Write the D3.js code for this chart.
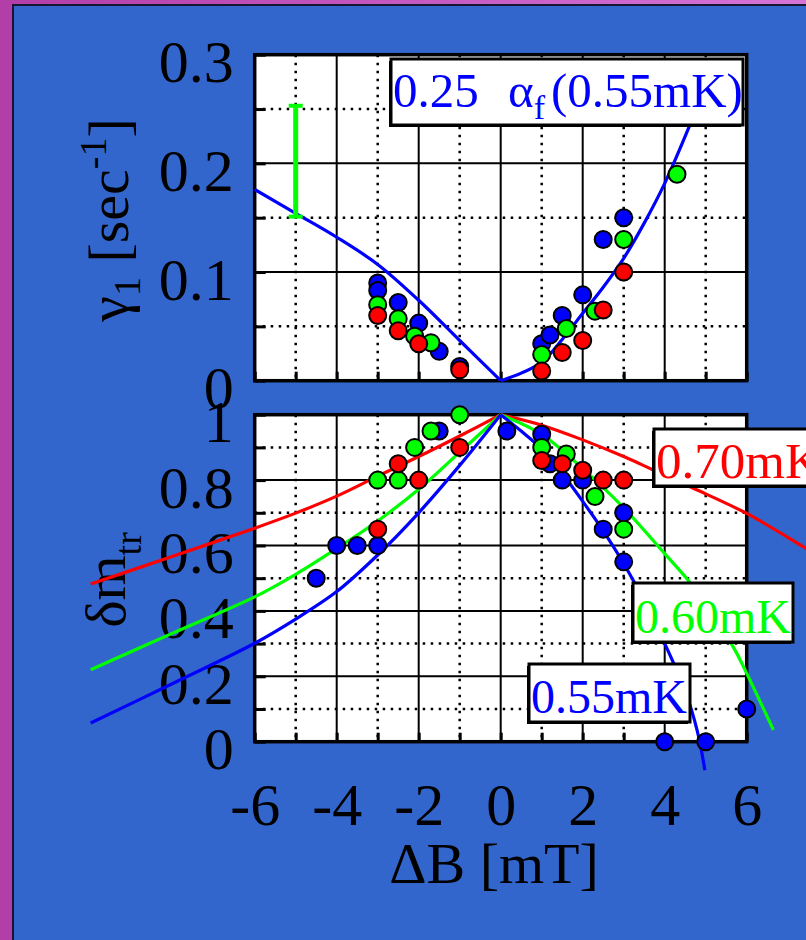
<!DOCTYPE html>
<html>
<head>
<meta charset="utf-8">
<script src="https://cdn.jsdelivr.net/npm/d3@7"></script>
<style>
  html, body { margin: 0; padding: 0; background: #b23ea8; }
  svg { display: block; }
  text { font-family: "Liberation Serif", "Times New Roman", serif; }
</style>
</head>
<body>
<svg id="chart" width="806" height="940"></svg>
<script>
// ---- axis ticks ----
const xTickValues = [-6, -4, -2, 0, 2, 4, 6];
const gammaTickValues = [0, 0.1, 0.2, 0.3];
const dmTickValues = [0, 0.2, 0.4, 0.6, 0.8, 1];

// ---- γ1 relaxation rate vs ΔB, three temperatures ----
const gammaBlue  = [[-3, 0.09], [-3, 0.083], [-2.5, 0.072], [-2, 0.053], [-1.5, 0.027], [-1, 0.013],
                    [1, 0.034], [1.2, 0.042], [1.5, 0.06], [2, 0.079], [2.5, 0.13], [3, 0.15]];
const gammaGreen = [[-3, 0.07], [-2.5, 0.057], [-2.1, 0.041], [-1.7, 0.035],
                    [1, 0.024], [1.6, 0.048], [2.3, 0.064], [3, 0.13], [4.3, 0.19]];
const gammaRed   = [[-3, 0.06], [-2.5, 0.046], [-2, 0.034], [-1, 0.01],
                    [1, 0.009], [1.5, 0.026], [2, 0.037], [2.5, 0.065], [3, 0.10]];
// typical error bar: ΔB, low, high
const gammaErrorBar = [-5, 0.151, 0.253];
// 0.25·α_f(0.55mK) curve, left and right branches
const gammaFitLeft  = [[-6, 0.176], [-5, 0.154], [-4, 0.132], [-3, 0.107], [-2, 0.074], [-1, 0.037], [0, 0]];
const gammaFitRight = [[0, 0], [0.5, 0.007], [1, 0.017], [1.5, 0.038], [2, 0.062], [2.5, 0.086],
                       [3, 0.1126], [3.5, 0.145], [4, 0.1816], [4.6, 0.234], [5, 0.272]];

// ---- δm_tr vs ΔB ----
const dmBlue  = [[-4.5, 0.5], [-4, 0.6], [-3.5, 0.6], [-3, 0.6], [-1.5, 0.95], [0.15, 0.95], [1, 0.94],
                 [1.2, 0.85], [1.5, 0.8], [2, 0.8], [2.5, 0.65], [3, 0.7], [3, 0.55], [4, 0], [5, 0], [6, 0.1]];
const dmGreen = [[-3, 0.8], [-2.5, 0.8], [-2.1, 0.9], [-1.7, 0.95], [-1, 1.0],
                 [1, 0.9], [1.6, 0.88], [2.3, 0.75], [3, 0.65]];
const dmRed   = [[-3, 0.65], [-2.5, 0.85], [-2, 0.8], [-1, 0.9],
                 [1, 0.86], [1.5, 0.85], [2, 0.83], [2.5, 0.8], [3, 0.8]];
// model curves (left / right of ΔB = 0)
const fit070Left  = [[-10, 0.482], [-8, 0.567], [-6, 0.653], [-5, 0.699], [-4, 0.751], [-3, 0.812], [-2, 0.872], [-1, 0.935], [0, 1]];
const fit070Right = [[0, 1], [1, 0.968], [2, 0.923], [3, 0.872], [3.72, 0.831], [4.7, 0.775], [6, 0.698], [7.45, 0.591], [8, 0.55]];
const fit060Left  = [[-10, 0.22], [-8, 0.332], [-6, 0.443], [-5, 0.512], [-4, 0.591], [-3, 0.675], [-2, 0.772], [-1, 0.885], [0, 1]];
const fit060Right = [[0, 1], [1, 0.94], [2, 0.835], [3, 0.715], [4, 0.575], [4.66, 0.48], [5.67, 0.29], [6, 0.209], [6.65, 0.036]];
const fit055Left  = [[-10, 0.057], [-8, 0.178], [-6, 0.301], [-5, 0.375], [-4, 0.459], [-3, 0.571], [-2, 0.70], [-1, 0.845], [0, 1]];
const fit055Right = [[0, 1], [0.5, 0.95], [1, 0.895], [1.5, 0.82], [2, 0.735], [2.5, 0.645], [3, 0.545], [3.5, 0.43],
                     [4, 0.3], [4.5, 0.155], [4.8, 0.03], [4.98, -0.087]];

const BLUE = "#0000ff", GREEN = "#00ff00", RED = "#ff0000";

const svg = d3.select("#chart");

// ---- backdrop ----
const defs = svg.append("defs");
const band = defs.append("linearGradient").attr("id", "band").attr("x1", 0).attr("x2", 1).attr("y1", 0).attr("y2", 0);
band.append("stop").attr("offset", 0).attr("stop-color", "#b23ea8");
band.append("stop").attr("offset", 1).attr("stop-color", "#d674d6");
svg.append("rect").attr("width", 806).attr("height", 940).attr("fill", "#b23ea8");
svg.append("rect").attr("width", 806).attr("height", 6).attr("fill", "url(#band)");
svg.append("rect").attr("x", 13).attr("y", 5).attr("width", 820).attr("height", 960)
  .attr("fill", "#3366cc").attr("stroke", "#161630").attr("stroke-width", 2);

// ---- scales ----
const x = d3.scaleLinear().domain([-6, 6]).range([254.7, 746.7]);
const yTop = d3.scaleLinear().domain([0, 0.3]).range([380.7, 54.7]);
const yBot = d3.scaleLinear().domain([0, 1]).range([741.7, 414.7]);

function panelGrid(y, minorY, majorY) {
  const g = svg.append("g");
  g.append("rect").attr("x", x(-6)).attr("y", y.range()[1])
    .attr("width", x(6) - x(-6)).attr("height", y.range()[0] - y.range()[1]).attr("fill", "#ffffff");
  const xs = d3.range(-5, 6);
  g.selectAll(null).data(xs).join("line")
    .attr("x1", d => x(d)).attr("x2", d => x(d))
    .attr("y1", y.range()[1]).attr("y2", y.range()[0])
    .attr("stroke", "#000")
    .attr("stroke-width", d => d % 2 === 0 ? 2 : 2.5)
    .attr("stroke-dasharray", d => d % 2 === 0 ? null : "2.5,5.5");
  g.selectAll(null).data(minorY).join("line")
    .attr("x1", x(-6)).attr("x2", x(6)).attr("y1", d => y(d)).attr("y2", d => y(d))
    .attr("stroke", "#000").attr("stroke-width", 2.5).attr("stroke-dasharray", "2.5,5.5");
  g.selectAll(null).data(majorY).join("line")
    .attr("x1", x(-6)).attr("x2", x(6)).attr("y1", d => y(d)).attr("y2", d => y(d))
    .attr("stroke", "#000").attr("stroke-width", 2);
  return g;
}

function panelFrame(y, leftTicks) {
  const g = svg.append("g");
  // inward tick marks
  g.append("g").attr("transform", `translate(0,${y.range()[0]})`)
    .call(d3.axisBottom(x).tickValues(d3.range(-6, 7)).tickSize(-9).tickFormat(""))
    .call(a => a.select(".domain").remove())
    .call(a => a.selectAll("line").attr("stroke-width", 3));
  g.append("g").attr("transform", `translate(${x(-6)},0)`)
    .call(d3.axisLeft(y).tickValues(leftTicks).tickSize(-11).tickFormat(""))
    .call(a => a.select(".domain").remove())
    .call(a => a.selectAll("line").attr("stroke-width", 3));
  g.append("rect").attr("x", x(-6)).attr("y", y.range()[1])
    .attr("width", x(6) - x(-6)).attr("height", y.range()[0] - y.range()[1])
    .attr("fill", "none").attr("stroke", "#000").attr("stroke-width", 3.5);
}

function tickLabels(y, values, fmt) {
  svg.append("g").attr("transform", `translate(${x(-6)},0)`)
    .call(d3.axisLeft(y).tickValues(values).tickSize(0).tickPadding(21).tickFormat(fmt))
    .call(a => a.select(".domain").remove())
    .call(a => a.selectAll("text").attr("font-size", 60).attr("dy", "0.45em")
      .attr("fill", "#000").attr("font-family", "Liberation Serif, Times New Roman, serif"));
}

function dots(data, y, color) {
  svg.append("g").selectAll("circle").data(data).join("circle")
    .attr("cx", d => x(d[0])).attr("cy", d => y(d[1])).attr("r", 8.5)
    .attr("fill", color).attr("stroke", "#000").attr("stroke-width", 2);
}

function curve(data, y, color) {
  const line = d3.line().x(d => x(d[0])).y(d => y(d[1])).curve(d3.curveCatmullRom.alpha(0.5));
  svg.append("path").datum(data).attr("d", line)
    .attr("fill", "none").attr("stroke", color).attr("stroke-width", 3.2)
    .attr("stroke-linejoin", "round");
}

function labelBox(bx, by, bw, bh) {
  svg.append("rect").attr("x", bx - 2).attr("y", by + 2).attr("width", bw).attr("height", bh).attr("fill", "#000");
  svg.append("rect").attr("x", bx).attr("y", by).attr("width", bw).attr("height", bh)
    .attr("fill", "#fff").attr("stroke", "#000").attr("stroke-width", 3);
}

// ======== upper panel: γ1 ========
panelGrid(yTop, [0.05, 0.15, 0.25], [0.1, 0.2]);
panelFrame(yTop, d3.range(0, 0.3001, 0.05));
tickLabels(yTop, gammaTickValues, d => d === 0 ? "0" : d3.format(".1f")(d));

curve(gammaFitLeft, yTop, BLUE);
curve(gammaFitRight, yTop, BLUE);

// error bar
{
  const [ex, lo, hi] = gammaErrorBar;
  const eg = svg.append("g").attr("stroke", GREEN);
  eg.append("line").attr("x1", x(ex)).attr("x2", x(ex)).attr("y1", yTop(lo)).attr("y2", yTop(hi)).attr("stroke-width", 5);
  eg.selectAll(null).data([lo, hi]).join("line")
    .attr("x1", x(ex) - 7).attr("x2", x(ex) + 7).attr("y1", d => yTop(d)).attr("y2", d => yTop(d))
    .attr("stroke-width", 4);
}

dots(gammaBlue, yTop, BLUE);
dots(gammaGreen, yTop, GREEN);
dots(gammaRed, yTop, RED);

labelBox(391, 59, 352, 66);
{
  const t = svg.append("text").attr("x", 393).attr("y", 107).attr("font-size", 49).attr("fill", BLUE);
  t.append("tspan").text("0.25");
  t.append("tspan").attr("x", 508).text("α");
  t.append("tspan").attr("font-size", 34).attr("dy", 12).text("f");
  t.append("tspan").attr("x", 551).attr("dy", -12).text("(0.55mK)");
}

// y label, upper panel
{
  const t = svg.append("text").attr("transform", "translate(128,220) rotate(-90)")
    .attr("text-anchor", "middle").attr("font-size", 58).attr("fill", "#000");
  t.append("tspan").text("γ");
  t.append("tspan").attr("font-size", 38).attr("dy", 12).text("1");
  t.append("tspan").attr("dy", -12).text(" [sec");
  t.append("tspan").attr("font-size", 38).attr("dy", -22).text("-1");
  t.append("tspan").attr("dy", 22).text("]");
}

// ======== lower panel: δm_tr ========
panelGrid(yBot, [0.1, 0.3, 0.5, 0.7, 0.9], [0.2, 0.4, 0.6, 0.8]);
panelFrame(yBot, d3.range(0, 1.0001, 0.1));
tickLabels(yBot, dmTickValues, d => (d === 0 || d === 1) ? String(d) : d3.format(".1f")(d));

// x tick labels (plain hyphen for negatives)
svg.append("g").attr("transform", `translate(0,${yBot.range()[0]})`)
  .call(d3.axisBottom(x).tickValues(xTickValues).tickSize(0).tickPadding(41).tickFormat(d => String(d)))
  .call(a => a.select(".domain").remove())
  .call(a => a.selectAll("text").attr("font-size", 60).attr("fill", "#000")
    .attr("font-family", "Liberation Serif, Times New Roman, serif"));

// y label, lower panel
{
  const t = svg.append("text").attr("transform", "translate(125,580) rotate(-90)")
    .attr("text-anchor", "middle").attr("font-size", 58).attr("fill", "#000");
  t.append("tspan").text("δm");
  t.append("tspan").attr("font-size", 38).attr("dy", 16).text("tr");
}

// x axis title
svg.append("text").attr("x", 494).attr("y", 883).attr("text-anchor", "middle")
  .attr("font-size", 58).attr("fill", "#000").text("ΔB [mT]");

curve(fit070Left, yBot, RED);
curve(fit070Right, yBot, RED);
curve(fit060Left, yBot, GREEN);
curve(fit060Right, yBot, GREEN);
curve(fit055Left, yBot, BLUE);
curve(fit055Right, yBot, BLUE);

dots(dmBlue, yBot, BLUE);
dots(dmGreen, yBot, GREEN);
dots(dmRed, yBot, RED);

labelBox(654, 429, 200, 57);
svg.append("text").attr("x", 656).attr("y", 478).attr("font-size", 51).attr("fill", RED).text("0.70mK");
labelBox(633, 583, 160, 59);
svg.append("text").attr("x", 635).attr("y", 633).attr("font-size", 48).attr("fill", GREEN).text("0.60mK");
labelBox(529, 664, 161, 58);
svg.append("text").attr("x", 531).attr("y", 713).attr("font-size", 48).attr("fill", BLUE).text("0.55mK");
</script>
</body>
</html>
